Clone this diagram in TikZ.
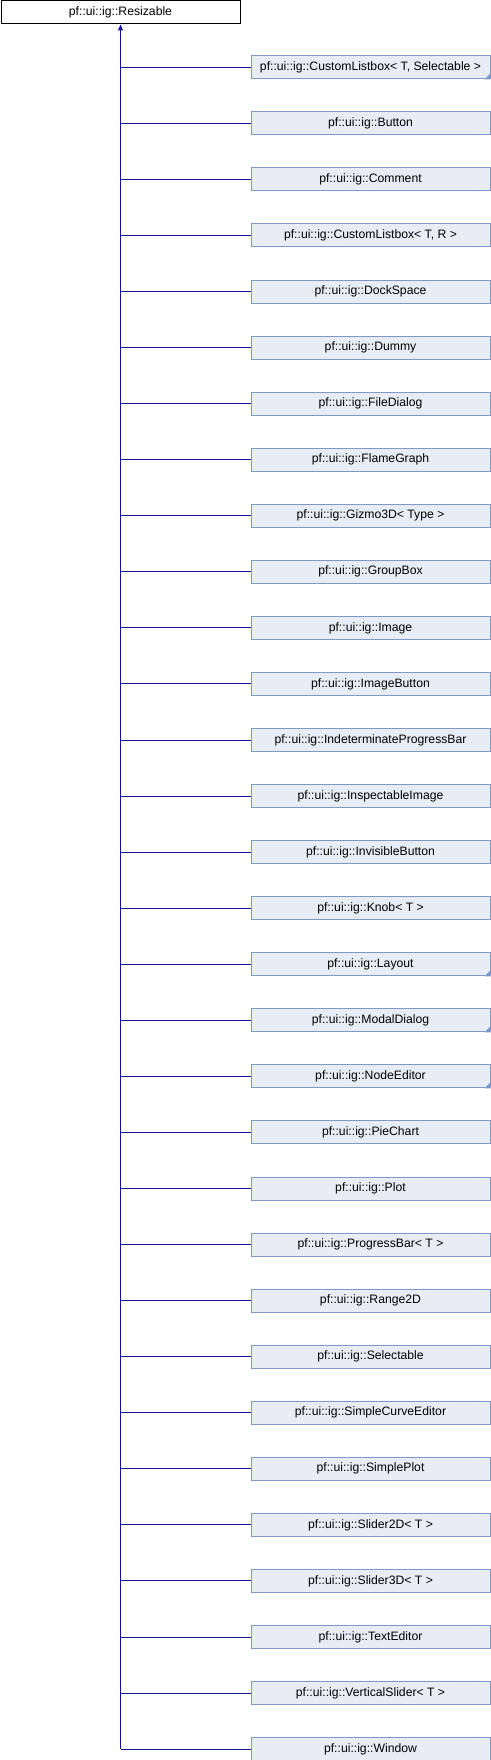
\documentclass[tikz,border=0pt]{standalone}
\usepackage{fontspec}
\setmainfont{Liberation Sans}
\usetikzlibrary{arrows.meta}
\definecolor{boxfill}{RGB}{232,236,245}
\definecolor{boxline}{RGB}{128,152,204}
\definecolor{conn}{RGB}{20,20,150}
\tikzset{
  x=1pt,y=-1pt,
  base/.style={draw, line width=1pt, minimum width=239pt, minimum height=23pt, inner sep=0pt,
    font=\fontsize{12.2}{14}\selectfont, anchor=north west},
  parentbox/.style={base, fill=white, draw=black},
  childbox/.style={base, fill=boxfill, draw=boxline},
  conline/.style={draw=conn, line width=1pt},
  inh/.style={conline, -{Triangle[length=6pt,width=5pt]}},
}
\begin{document}
\begin{tikzpicture}
\useasboundingbox (0,0) rectangle (490,1760);
\node[parentbox, minimum width=239pt] (p) at (0.5,0.5) {pf::ui::ig::Resizable};
\foreach \i/\t/\c in {
 0/{CustomListbox< T, Selectable >}/1,
 1/{Button}/0,
 2/{Comment}/0,
 3/{CustomListbox< T, R >}/0,
 4/{DockSpace}/0,
 5/{Dummy}/0,
 6/{FileDialog}/0,
 7/{FlameGraph}/0,
 8/{Gizmo3D< Type >}/0,
 9/{GroupBox}/0,
 10/{Image}/0,
 11/{ImageButton}/0,
 12/{IndeterminateProgressBar}/0,
 13/{InspectableImage}/0,
 14/{InvisibleButton}/0,
 15/{Knob< T >}/0,
 16/{Layout}/1,
 17/{ModalDialog}/1,
 18/{NodeEditor}/1,
 19/{PieChart}/0,
 20/{Plot}/0,
 21/{ProgressBar< T >}/0,
 22/{Range2D}/0,
 23/{Selectable}/0,
 24/{SimpleCurveEditor}/0,
 25/{SimplePlot}/0,
 26/{Slider2D< T >}/0,
 27/{Slider3D< T >}/0,
 28/{TextEditor}/0,
 29/{VerticalSlider< T >}/0,
 30/{Window}/0}{
  \node[childbox] (c\i) at (250.5, 55.3+56.06*\i) {pf::ui::ig::\t};
  \draw[conline] (c\i.west) -- (c\i.west -| p.south);
  \ifnum\c=1
    \fill[boxline] (c\i.south east) -- ++(0,-6) -- ++(-6,6) -- cycle;
  \fi
}
\draw[inh] (c30.west -| p.south) -- (p.south);
\end{tikzpicture}
\end{document}
